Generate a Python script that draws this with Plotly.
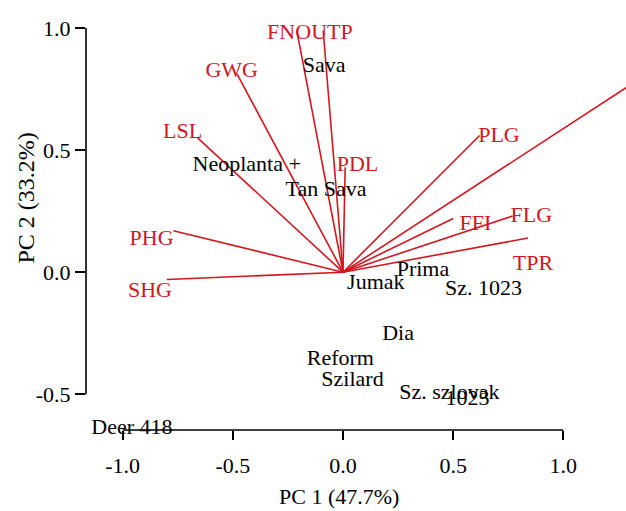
import plotly.graph_objects as go

# Variable loadings (arrow tips) and label positions
var_names = ["FNO", "UTP", "GWG", "LSL", "PHG", "SHG", "PDL", "PLG", "", "FFI", "FLG", "TPR"]
var_x = [-0.21, -0.09, -0.48, -0.66, -0.77, -0.80, 0.01, 0.62, 1.45, 0.50, 0.77, 0.84]
var_y = [0.99, 0.99, 0.81, 0.55, 0.17, -0.03, 0.43, 0.56, 0.853, 0.22, 0.23, 0.14]
var_lab_x = [-0.245, -0.050, -0.505, -0.728, -0.869, -0.876, 0.066, 0.708, 1.60, 0.601, 0.855, 0.862]
var_lab_y = [0.976, 0.976, 0.820, 0.572, 0.134, -0.081, 0.439, 0.554, 0.94, 0.194, 0.228, 0.033]

# Genotype scores
gen_names = ["Sava", "Neoplanta +", "Tan Sava", "Prima", "Jumak", "Sz. 1023", "Dia",
             "Reform", "Szilard", "Sz. szlovak", "1023", "Deer 418"]
gen_x = [-0.086, -0.437, -0.077, 0.363, 0.149, 0.638, 0.250, -0.012, 0.043, 0.483, 0.565, -0.958]
gen_y = [0.841, 0.439, 0.334, 0.006, -0.047, -0.070, -0.256, -0.358, -0.444, -0.498, -0.522, -0.640]

x_ticks = [-1.0, -0.5, 0.0, 0.5, 1.0]
x_tick_text = ["-1.0", "-0.5", "0.0", "0.5", "1.0"]
y_ticks = [-0.5, 0.0, 0.5, 1.0]
y_tick_text = ["-0.5", "0.0", "0.5", "1.0"]

RED = "rgb(212,22,30)"
FONT = "Liberation Serif, Times New Roman, Times, serif"

fig = go.Figure()

lx, ly = [], []
for x, y in zip(var_x, var_y):
    lx += [0, x, None]
    ly += [0, y, None]
fig.add_trace(go.Scatter(x=lx, y=ly, mode="lines", line=dict(color=RED, width=1.6),
                         hoverinfo="skip", showlegend=False))

fig.add_trace(go.Scatter(x=var_lab_x, y=var_lab_y, text=var_names, mode="text",
                         textposition="middle center", cliponaxis=False,
                         textfont=dict(family=FONT, size=22, color=RED), showlegend=False))

fig.add_trace(go.Scatter(x=gen_x, y=gen_y, text=gen_names, mode="text",
                         textposition="middle center", cliponaxis=False,
                         textfont=dict(family=FONT, size=22, color="black"), showlegend=False))

# detached axis lines
fig.add_shape(type="line", xref="x", yref="paper", x0=-1.0, x1=1.0, y0=0, y1=0,
              line=dict(color="black", width=1.6))
fig.add_shape(type="line", xref="paper", yref="y", x0=0, x1=0, y0=-0.5, y1=1.0,
              line=dict(color="black", width=1.6))

fig.add_annotation(x=0.4694, y=-0.1558, xref="paper", yref="paper", text="PC 1 (47.7%)",
                   showarrow=False, xanchor="center", yanchor="middle",
                   font=dict(family=FONT, size=22, color="black"))
fig.add_annotation(x=-0.1111, y=0.5384, xref="paper", yref="paper", text="PC 2 (33.2%)",
                   textangle=-90, showarrow=False, xanchor="center", yanchor="middle",
                   font=dict(family=FONT, size=24, color="black"))

fig.update_xaxes(range=[-1.1666, 1.2846], showgrid=False, zeroline=False, showline=False,
                 ticks="outside", ticklen=9, tickwidth=1.6, tickcolor="black",
                 tickvals=x_ticks, ticktext=x_tick_text, ticklabelstandoff=7,
                 tickfont=dict(family=FONT, size=22, color="black"))
fig.update_yaxes(range=[-0.6462, 1.1147], showgrid=False, zeroline=False, showline=False,
                 ticks="outside", ticklen=10, tickwidth=1.6, tickcolor="black",
                 tickvals=y_ticks, ticktext=y_tick_text,
                 tickfont=dict(family=FONT, size=22, color="black"))

fig.update_layout(width=626, height=511, margin=dict(l=86, r=0, t=0, b=81),
                  plot_bgcolor="white", paper_bgcolor="white", showlegend=False)

fig.write_html("out.html", config={"displayModeBar": False},
               post_script="document.body.style.margin='0';")
